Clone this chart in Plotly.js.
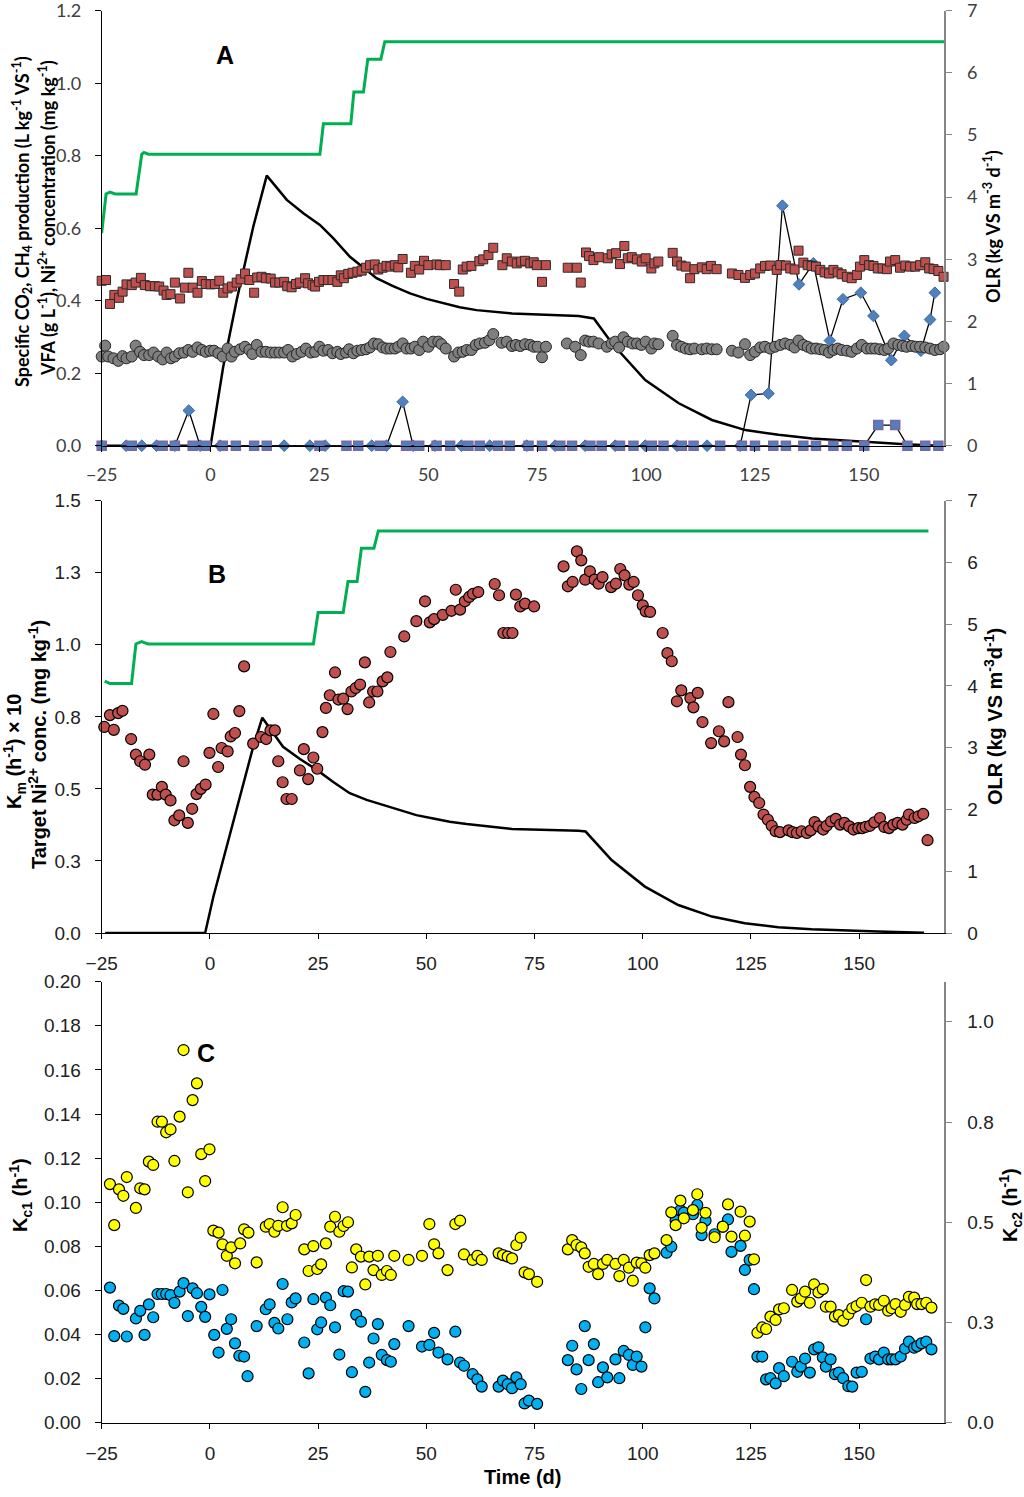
<!DOCTYPE html>
<html>
<head>
<meta charset="utf-8">
<script src="https://cdn.plot.ly/plotly-3.0.1.min.js"></script>
<style>
  html, body { margin: 0; padding: 0; background: #fff; }
  #chart { width: 1024px; height: 1497px; }
</style>
</head>
<body>
<div id="chart"></div>
<script>
"use strict";

// ---------- Panel A ----------
// specific CH4 production (red squares)
const dayA_ch4 = [-25,-24.0,-23.1,-22.1,-21.0,-20.2,-19.3,-18.1,-17.2,-16.0,
  -15.1,-13.9,-12.8,-11.8,-10.8,-10.1,-9.2,-8.2,-7.0,-5.9,
  -5.1,-4.1,-3.0,-2.0,-1.1,0.0,1.0,2.0,2.9,3.9,
  4.9,6.0,6.9,7.9,8.9,10.0,10.7,11.7,12.7,13.8,
  14.8,15.8,16.9,17.6,18.6,19.6,20.5,21.7,22.4,23.4,
  24.0,24.9,25.9,27.0,28.0,29.1,29.9,30.6,31.6,32.6,
  33.7,34.7,35.7,36.6,37.7,38.5,39.5,40.4,41.3,42.3,
  43.1,44.1,46.0,46.9,47.9,49.0,50.0,51.9,52.7,54.0,
  55.9,57.1,57.9,58.8,59.9,61.7,62.6,63.8,64.9,67.0,
  68.0,69.2,70.3,71.3,72.2,73.4,74.2,74.9,76.1,77.0,
  82.0,84.1,85.0,86.2,86.9,87.9,89.2,91.2,92.1,93.1,
  94.0,95.0,95.8,96.7,97.9,99.0,99.9,101.2,101.9,102.8,
  106.1,107.1,108.1,109.1,110.1,111.1,112.8,113.9,114.9,116.2,
  119.7,121.2,122.7,123.9,125.0,126.2,127.3,128.5,130.0,130.8,
  132.1,133.1,134.1,135.0,136.1,137.1,138.0,139.0,140.0,141.0,
  142.0,143.0,144.0,144.9,146.1,147.2,148.4,149.1,150.1,151.2,
  152.2,153.2,154.3,155.3,156.0,157.2,158.3,159.5,160.6,161.8,
  162.9,164.1,165.0,166.0,167.1,168.3];
const ch4A = [0.455,0.457,0.391,0.416,0.408,0.425,0.445,0.443,0.450,0.463,
  0.443,0.440,0.440,0.439,0.428,0.416,0.418,0.450,0.406,0.436,
  0.477,0.436,0.422,0.454,0.446,0.445,0.446,0.455,0.422,0.434,
  0.439,0.450,0.459,0.475,0.457,0.422,0.464,0.466,0.462,0.461,
  0.450,0.450,0.452,0.440,0.437,0.446,0.450,0.462,0.448,0.443,
  0.439,0.452,0.457,0.457,0.457,0.452,0.470,0.462,0.474,0.477,
  0.480,0.483,0.491,0.498,0.500,0.486,0.491,0.496,0.494,0.498,
  0.492,0.515,0.477,0.496,0.486,0.510,0.498,0.500,0.498,0.498,
  0.446,0.425,0.486,0.494,0.496,0.509,0.514,0.526,0.546,0.498,
  0.517,0.508,0.503,0.508,0.510,0.503,0.506,0.498,0.452,0.498,
  0.491,0.491,0.450,0.533,0.523,0.512,0.520,0.517,0.528,0.531,
  0.501,0.551,0.517,0.520,0.514,0.508,0.517,0.489,0.503,0.508,
  0.532,0.508,0.497,0.494,0.462,0.487,0.492,0.487,0.496,0.487,
  0.475,0.471,0.463,0.471,0.475,0.489,0.496,0.497,0.485,0.498,
  0.497,0.489,0.486,0.538,0.505,0.498,0.496,0.494,0.485,0.478,
  0.475,0.485,0.478,0.473,0.466,0.462,0.471,0.494,0.512,0.498,
  0.496,0.489,0.489,0.487,0.508,0.512,0.491,0.497,0.494,0.494,
  0.498,0.506,0.489,0.487,0.482,0.466];

// specific CO2 production (grey circles)
const dayA_co2 = [-25.0,-24.2,-23.5,-22.3,-21.2,-20.2,-19.3,-18.1,-17.2,-16.2,
  -15.3,-14.1,-13.1,-12.0,-11.0,-10.1,-9.1,-8.2,-7.2,-6.1,
  -5.1,-4.1,-3.0,-2.0,-1.1,-0.1,0.8,1.8,2.8,3.9,
  4.8,5.6,6.8,7.9,8.9,9.6,10.6,11.7,12.7,13.8,
  14.8,15.8,16.9,17.8,18.8,19.8,20.9,21.9,23.0,24.0,
  25.0,25.9,27.0,28.0,29.1,29.9,31.1,31.8,32.8,33.7,
  34.7,35.7,36.6,37.5,38.5,39.5,40.4,41.3,42.3,43.1,
  44.1,45.0,46.0,46.9,47.9,48.8,50.0,51.1,52.3,53.0,
  54.0,55.9,56.9,57.9,58.8,59.9,60.9,61.8,63.0,64.0,
  64.9,66.8,68.0,69.2,
  70.1,71.1,72.2,73.4,74.2,75.1,76.1,77.0,81.8,83.7,
  85.0,86.0,86.9,87.9,89.1,91.0,92.1,92.9,93.8,94.8,
  95.8,96.9,97.9,98.9,99.9,101.2,101.9,102.8,106.1,107.1,
  108.1,109.1,110.1,111.1,112.8,113.9,115.1,116.2,119.7,121.2,
  122.7,123.9,125.0,126.2,127.3,128.5,129.6,130.8,131.9,133.1,
  134.1,135.0,136.1,137.1,138.0,139.0,140.0,141.0,142.0,143.0,
  144.0,144.9,146.1,147.2,148.4,149.5,150.7,151.7,152.6,153.7,
  154.7,155.6,156.8,157.9,158.9,159.8,161.0,161.9,162.9,164.1,
  165.2,166.3,167.5,168.3];
const co2A = [0.246,0.276,0.246,0.241,0.234,0.247,0.241,0.246,0.276,0.259,
  0.250,0.250,0.257,0.246,0.238,0.257,0.241,0.246,0.255,0.257,
  0.264,0.259,0.271,0.264,0.259,0.262,0.262,0.255,0.246,0.268,
  0.246,0.259,0.266,0.273,0.264,0.253,0.278,0.259,0.259,0.257,
  0.257,0.257,0.257,0.264,0.246,0.253,0.259,0.268,0.257,0.259,
  0.273,0.262,0.264,0.255,0.259,0.253,0.257,0.266,0.255,0.262,
  0.264,0.266,0.271,0.282,0.280,0.271,0.268,0.268,0.268,0.273,
  0.282,0.268,0.268,0.273,0.264,0.287,0.273,0.287,0.287,0.280,
  0.268,0.246,0.257,0.259,0.264,0.264,0.278,0.282,0.284,0.291,
  0.308,0.284,0.287,0.275,
  0.278,0.275,0.280,0.278,0.273,0.273,0.244,0.273,0.282,0.273,
  0.250,0.290,0.287,0.287,0.282,0.273,0.282,0.287,0.271,0.299,
  0.287,0.282,0.282,0.278,0.287,0.268,0.282,0.280,0.303,0.278,
  0.273,0.268,0.266,0.268,0.266,0.268,0.266,0.266,0.262,0.257,
  0.280,0.250,0.259,0.271,0.273,0.268,0.273,0.278,0.282,0.278,
  0.271,0.290,0.278,0.273,0.268,0.268,0.266,0.264,0.257,0.264,
  0.268,0.264,0.262,0.259,0.268,0.278,0.268,0.268,0.268,0.266,
  0.264,0.268,0.282,0.278,0.275,0.273,0.275,0.273,0.273,0.271,
  0.268,0.264,0.266,0.273];

// VFA (blue diamonds)
const dayA_vfa = [-25,-19.4,-15.8,-12.4,-8.2,-5.0,-2.4,2.2,16.9,22.8,
  26.3,37.0,40.4,44.1,46.5,51.5,57.6,64.1,72.6,79.1,
  86.0,92.9,99.8,107.1,114.0,121.6,124.1,128.1,131.3,135.1,
  138.4,142.2,145.2,149.3,152.2,156.3,159.3,163.1,165.2,166.3];
const vfaA = [0,0,0,0,0,0.097,0,0,0,0,
  0,0,0,0.121,0,0,0,0,0,0,
  0,0,0,0,0,0,0.140,0.144,0.662,0.445,
  0.503,0.290,0.404,0.422,0.358,0.236,0.303,0.262,0.348,0.422];

// Ni2+ (blue squares)
const dayA_ni = [-25,-18.1,-11.0,-8.2,-4.1,-1.1,2.8,5.8,10.0,12.9,
  25.0,31.2,33.9,38.9,44.9,47.9,51.9,55.0,59.2,61.8,
  66.0,68.7,73.0,76.1,80.3,83.0,87.2,89.8,94.0,97.1,
  101.3,104.0,108.2,110.9,117.0,122.0,125.0,129.2,132.1,136.1,
  139.0,143.0,146.1,150.1,153.3,157.2,160.0,164.1,167.1];
const niA = [0,0,0,0,0,0,0,0,0,0,
  0,0,0,0,0,0,0,0,0,0,
  0,0,0,0,0,0,0,0,0,0,
  0,0,0,0,0,0,0,0,0,0,
  0,0,0,0,0.057,0.057,0,0,0];

// target Ni2+ concentration (black line)
const dayA_target = [-25,0.0,2.9,6.0,9.8,12.9,17.5,21.3,25.1,28.2,32.0,35.8,38.1,41.9,45.8,49.6,
  53.4,57.2,61.1,64.9,69.2,84.5,88.0,92.2,99.8,107.5,115.1,122.8,130.4,138.1,145.7,153.4,159.5,167.2];
const targetA = [0,0,0.218,0.402,0.604,0.745,0.678,0.641,0.609,0.572,0.521,0.485,0.462,0.440,0.420,0.405,
  0.393,0.382,0.374,0.369,0.365,0.358,0.351,0.282,0.181,0.117,0.071,0.043,0.030,0.020,0.014,0.008,0.004,0];

// OLR (green line)
const dayA_olr = [-25,-24.0,-23.1,-21.9,-17.1,-15.8,-15.3,-14.3,25.1,25.9,32.2,32.9,35.1,36.1,39.1,40.0,168.4];
const olrA = [3.42,4.05,4.08,4.05,4.05,4.69,4.72,4.69,4.69,5.18,5.18,5.69,5.69,6.22,6.22,6.50,6.50];

// ---------- Panel B ----------
const dayB_km = [-24.4,-23.1,-22.2,-21.2,-20.2,-18.2,-17.1,-16.1,-15.0,-14.0,
  -13.2,-12.1,-11.1,-10.2,-9.1,-8.2,-7.1,-6.1,-5.1,-4.1,
  -3.1,-2.1,-1.0,-0.1,0.8,1.9,2.7,4.1,4.8,5.8,
  6.8,7.9,10.0,11.8,13.0,14.0,15.0,15.8,16.8,17.7,
  18.9,20.8,21.7,22.7,23.9,24.8,26.0,26.8,27.7,28.9,
  29.7,30.8,31.8,32.7,33.7,34.7,35.8,36.8,37.7,38.7,
  39.9,41.0,41.7,44.9,47.7,49.7,50.8,51.8,53.8,55.8,
  56.8,57.8,58.9,59.9,60.8,62.0,65.8,66.8,67.8,68.9,
  69.9,70.7,71.7,72.8,74.9,81.7,82.7,83.8,84.8,85.8,
  86.7,87.8,88.9,89.8,90.7,92.7,93.8,94.8,95.8,96.9,
  97.9,98.9,100.0,100.7,101.7,104.6,105.7,106.7,107.9,108.9,
  111.0,111.7,112.7,113.8,115.8,117.6,118.8,119.8,121.9,122.7,
  123.6,124.8,125.8,126.9,127.9,128.9,129.8,130.7,131.7,133.7,
  134.6,135.6,136.7,137.9,138.8,139.7,140.6,141.7,142.5,143.5,
  144.6,145.6,146.6,147.7,148.7,149.8,150.7,151.5,152.5,153.5,
  154.8,155.8,156.9,157.9,158.9,160.0,161.0,161.5,162.8,163.7,
  164.8,165.8];
const kmB = [0.715,0.756,0.705,0.763,0.771,0.673,0.619,0.596,0.584,0.619,
  0.480,0.480,0.507,0.480,0.460,0.391,0.408,0.596,0.382,0.431,
  0.482,0.500,0.515,0.625,0.760,0.576,0.642,0.630,0.682,0.694,
  0.770,0.925,0.657,0.680,0.673,0.703,0.703,0.596,0.523,0.465,
  0.465,0.564,0.638,0.534,0.609,0.570,0.697,0.781,0.825,0.904,
  0.810,0.813,0.777,0.838,0.850,0.862,0.939,0.800,0.838,0.838,
  0.873,0.887,0.975,1.029,1.082,1.151,1.078,1.089,1.104,1.118,
  1.191,1.122,1.151,1.166,1.177,1.183,1.211,1.172,1.041,1.041,
  1.041,1.174,1.133,1.143,1.133,1.272,1.203,1.218,1.324,1.293,
  1.226,1.255,1.226,1.212,1.235,1.200,1.212,1.263,1.241,1.209,
  1.218,1.172,1.137,1.116,1.114,1.041,0.971,0.943,0.804,0.842,
  0.815,0.783,0.833,0.732,0.659,0.700,0.665,0.801,0.680,0.619,
  0.582,0.507,0.472,0.451,0.411,0.393,0.372,0.353,0.350,0.356,
  0.350,0.347,0.353,0.347,0.356,0.385,0.370,0.359,0.372,0.387,
  0.396,0.376,0.382,0.370,0.359,0.364,0.364,0.368,0.372,0.384,
  0.399,0.368,0.364,0.376,0.382,0.376,0.393,0.411,0.399,0.405,
  0.413,0.322];

const dayB_target = [-24.2,-1.1,0.8,3.9,6.9,10.0,12.1,16.9,20.8,24.7,28.5,32.3,36.2,40.0,43.9,47.7,51.6,
  55.4,59.3,63.1,67.0,69.8,85.2,86.8,92.8,100.5,108.2,116.0,123.6,131.3,139.0,146.7,154.4,165.0];
const targetB = [0,0,0.126,0.300,0.473,0.646,0.747,0.646,0.604,0.566,0.524,0.485,0.462,0.444,0.426,0.409,0.397,
  0.386,0.378,0.371,0.365,0.361,0.355,0.352,0.253,0.161,0.097,0.057,0.034,0.020,0.013,0.008,0.005,0.001];

const dayB_olr = [-24.3,-23.1,-18.1,-17.1,-15.8,-14.3,23.9,25.0,30.8,31.9,34.0,35.0,37.9,38.9,166.0];
const olrB = [4.08,4.04,4.04,4.68,4.72,4.68,4.68,5.19,5.19,5.69,5.69,6.23,6.23,6.51,6.51];

// ---------- Panel C ----------
// Kc1 (yellow, left axis)
const dayC_kc1 = [-23.1,-22.1,-21.0,-20.0,-19.2,-17.1,-16.1,-15.1,-14.1,-13.1,
  -12.1,-11.1,-10.1,-9.1,-8.2,-7.0,-6.1,-5.1,-4.0,-3.0,
  -2.0,-1.1,-0.1,0.8,2.0,2.9,3.9,4.9,5.8,7.0,
  7.9,8.9,10.8,12.9,13.8,14.9,15.8,16.8,17.8,18.9,
  19.8,21.8,22.8,23.9,24.8,25.7,26.8,27.8,28.9,29.9,
  30.9,31.9,32.8,33.8,34.9,35.9,36.8,37.8,38.8,39.7,
  40.9,41.8,42.6,45.9,49.0,50.7,51.8,52.8,54.9,56.7,
  57.8,58.7,60.7,61.8,62.8,66.7,67.7,68.8,69.8,
  70.8,71.8,72.7,73.7,75.6,82.7,83.7,84.7,85.8,86.6,
  87.5,88.7,89.7,90.8,91.8,93.7,94.6,95.6,96.8,97.7,
  98.6,99.7,100.6,101.6,102.7,105.5,106.6,107.6,108.7,109.5,
  111.6,112.6,113.6,114.5,116.6,118.5,119.7,120.5,122.6,123.6,
  124.7,125.7,126.5,127.6,128.5,129.5,130.7,131.5,132.6,134.5,
  135.7,136.5,137.5,138.6,139.6,140.6,141.6,142.3,143.4,144.4,
  145.3,146.3,147.5,148.4,149.4,150.6,151.6,152.6,153.7,154.6,
  155.7,156.7,157.5,158.4,159.6,160.6,161.5,162.7,163.4,164.4,
  165.5,166.7];
const kc1C = [0.1082,0.0896,0.1058,0.1029,0.1114,0.0974,0.1063,0.1058,0.1184,0.1169,
  0.1365,0.1365,0.1317,0.1330,0.1187,0.1388,0.1690,0.1045,0.1463,0.1539,
  0.1218,0.1096,0.1240,0.0871,0.0862,0.0809,0.0757,0.0795,0.0723,0.0813,
  0.0877,0.0862,0.0727,0.0889,0.0901,0.0866,0.0893,0.0977,0.0893,0.0904,
  0.0942,0.0786,0.0688,0.0801,0.0697,0.0718,0.0813,0.0889,0.0934,0.0866,
  0.0892,0.0909,0.0704,0.0786,0.0753,0.0627,0.0753,0.0692,0.0757,0.0670,
  0.0688,0.0670,0.0757,0.0738,0.0757,0.0901,0.0809,0.0768,0.0692,0.0901,
  0.0916,0.0763,0.0738,0.0757,0.0738,0.0768,0.0760,0.0753,0.0745,
  0.0806,0.0839,0.0682,0.0674,0.0639,0.0786,0.0828,0.0806,0.0795,0.0768,
  0.0707,0.0720,0.0674,0.0720,0.0738,0.0720,0.0665,0.0738,0.0703,0.0644,
  0.0726,0.0723,0.0703,0.0760,0.0768,0.0828,0.0954,0.0896,0.1007,0.0927,
  0.0964,0.1036,0.0884,0.0952,0.0841,0.0889,0.0990,0.0844,0.0957,0.0848,
  0.0912,0.0741,0.0408,0.0432,0.0425,0.0481,0.0466,0.0514,0.0519,0.0602,
  0.0549,0.0564,0.0594,0.0544,0.0627,0.0591,0.0606,0.0526,0.0526,0.0481,
  0.0488,0.0463,0.0493,0.0519,0.0529,0.0544,0.0647,0.0526,0.0537,0.0534,
  0.0553,0.0508,0.0519,0.0538,0.0503,0.0534,0.0571,0.0567,0.0538,0.0538,
  0.0544,0.0522];

// Kc2 (blue, right axis)
const dayC_kc2 = [-23.1,-22.1,-21.0,-20.0,-19.2,-17.1,-16.1,-15.1,-14.1,-13.1,
  -12.1,-11.1,-10.1,-9.1,-8.2,-7.0,-6.1,-5.1,-4.0,-3.0,
  -2.0,-1.1,-0.1,1.0,2.0,2.9,3.9,4.9,5.8,6.8,
  7.9,8.7,10.8,12.9,13.8,14.9,15.8,16.8,17.9,18.9,
  19.8,21.8,22.8,23.9,24.8,25.7,26.8,27.8,28.9,29.9,
  30.9,31.9,32.8,33.8,34.9,35.9,36.8,37.8,38.8,39.7,
  40.9,41.8,42.6,45.9,49.0,50.7,51.8,52.8,54.9,56.7,
  57.8,58.7,60.7,61.8,62.8,66.7,67.7,68.8,69.8,
  70.8,71.8,72.7,73.7,75.6,82.7,83.7,84.7,85.8,86.6,
  87.5,88.7,89.7,90.8,91.8,93.7,94.6,95.6,96.8,97.7,
  98.6,99.7,100.6,101.6,102.7,105.5,106.6,107.6,108.7,109.5,
  111.6,112.6,113.6,114.5,116.6,118.5,119.7,120.5,122.6,123.6,
  124.7,125.7,126.5,127.6,128.5,129.5,130.7,131.5,132.6,134.5,
  135.7,136.5,137.5,138.6,139.6,140.6,141.6,142.3,143.4,144.4,
  145.3,146.3,147.5,148.4,149.4,150.6,151.6,152.6,153.7,154.6,
  155.7,156.7,157.5,158.4,159.6,160.6,161.5,162.7,163.4,164.4,
  165.5,166.7];
const kc2C = [0.337,0.216,0.292,0.284,0.215,0.260,0.279,0.219,0.295,0.263,
  0.321,0.321,0.321,0.318,0.299,0.327,0.348,0.266,0.335,0.323,
  0.289,0.264,0.320,0.219,0.175,0.331,0.234,0.258,0.198,0.167,
  0.165,0.116,0.241,0.283,0.295,0.249,0.235,0.346,0.258,0.300,
  0.310,0.200,0.123,0.308,0.233,0.250,0.312,0.293,0.238,0.170,
  0.328,0.327,0.126,0.269,0.252,0.077,0.150,0.210,0.246,0.169,
  0.156,0.152,0.196,0.241,0.190,0.194,0.224,0.175,0.158,0.227,
  0.150,0.142,0.121,0.108,0.090,0.090,0.105,0.096,0.086,
  0.113,0.096,0.048,0.055,0.047,0.156,0.192,0.133,0.084,0.241,
  0.156,0.196,0.101,0.138,0.113,0.158,0.111,0.179,0.169,0.144,
  0.165,0.140,0.238,0.335,0.310,0.424,0.439,0.505,0.530,0.524,
  0.520,0.543,0.468,0.504,0.470,0.489,0.507,0.426,0.441,0.381,
  0.406,0.333,0.165,0.165,0.108,0.111,0.098,0.136,0.116,0.152,
  0.127,0.140,0.160,0.125,0.183,0.188,0.163,0.140,0.158,0.121,
  0.125,0.111,0.091,0.090,0.125,0.127,0.258,0.160,0.165,0.158,
  0.175,0.158,0.158,0.158,0.165,0.185,0.202,0.187,0.191,0.198,
  0.202,0.183];

const tickTextQuarter = ["0.0","0.3","0.5","0.8","1.0","1.3","1.5"];
const tickValsQuarter = [0,0.25,0.5,0.75,1.0,1.25,1.5];
const tickValsA = [0,0.2,0.4,0.6,0.8,1.0,1.2];
const tickValsOlr = [0,1,2,3,4,5,6,7];

// ---------- layout helpers ----------
const W = 1024, H = 1497;
const px = x => x / W;
const py = y => 1 - y / H;
const xDom = [px(101.7), px(944)];

const famA = "Lato, 'Open Sans', sans-serif";
const famB = "'Liberation Sans', Arial, sans-serif";
const fontA = {family: famA, size: 18, color: "#404040"};
const fontB = {family: famB, size: 19, color: "#222"};

function leftAxis(font, extra) {
    return Object.assign({
        showgrid: false, zeroline: false, showline: true, linecolor: "#000", linewidth: 1,
        ticks: "outside", ticklen: 6, tickcolor: "#000", tickfont: font, ticklabelstandoff: 10,
        ticklabeloverflow: "allow"
    }, extra);
}
function rightAxis(font, extra) {
    return Object.assign({
        showgrid: false, zeroline: false, showline: true, linecolor: "#868686", linewidth: 1.5,
        ticks: "outside", ticklen: 6, tickcolor: "#868686", tickfont: font, ticklabelstandoff: 12,
        side: "right", ticklabeloverflow: "allow"
    }, extra);
}
function xAxis(font, extra) {
    return Object.assign({
        showgrid: false, zeroline: false, showline: true, linecolor: "#000", linewidth: 1,
        ticks: "outside", ticklen: 5, tickcolor: "#000", tickfont: font, ticklabelstandoff: 8,
        tick0: -25, dtick: 25, domain: xDom, ticklabeloverflow: "allow"
    }, extra);
}

const traces = [
    // Panel A
    {x: dayA_target, y: targetA, xaxis: "x", yaxis: "y", mode: "lines",
        line: {color: "#000", width: 2.5}},
    {x: dayA_vfa, y: vfaA, xaxis: "x", yaxis: "y", mode: "lines+markers", cliponaxis: false,
        line: {color: "#000", width: 1.3},
        marker: {symbol: "diamond", size: 9, color: "#4F81BD", line: {color: "#3A6AA8", width: 1}}},
    {x: dayA_ni, y: niA, xaxis: "x", yaxis: "y", mode: "lines+markers", cliponaxis: false,
        line: {color: "#000", width: 1.3},
        marker: {symbol: "square", size: 9, color: "#4F81BD", line: {color: "#8064A2", width: 1.5}}},
    {x: dayA_ch4, y: ch4A, xaxis: "x", yaxis: "y", mode: "markers", cliponaxis: false,
        marker: {symbol: "square", size: 9, color: "#C0504D", line: {color: "#2b2b2b", width: 1}}},
    {x: dayA_co2, y: co2A, xaxis: "x", yaxis: "y", mode: "markers", cliponaxis: false,
        marker: {symbol: "circle", size: 11, color: "#7F7F7F", line: {color: "#262626", width: 1}}},
    {x: dayA_olr, y: olrA, xaxis: "x", yaxis: "y2", mode: "lines",
        line: {color: "#00B050", width: 3}},
    // Panel B
    {x: dayB_target, y: targetB, xaxis: "x2", yaxis: "y3", mode: "lines",
        line: {color: "#000", width: 2.5}},
    {x: dayB_km, y: kmB, xaxis: "x2", yaxis: "y3", mode: "markers", cliponaxis: false,
        marker: {symbol: "circle", size: 11, color: "#C0504D", line: {color: "#000", width: 1.2}}},
    {x: dayB_olr, y: olrB, xaxis: "x2", yaxis: "y4", mode: "lines",
        line: {color: "#00B050", width: 3}},
    // Panel C
    {x: dayC_kc2, y: kc2C, xaxis: "x3", yaxis: "y5", mode: "markers", cliponaxis: false,
        marker: {symbol: "circle", size: 11, color: "#00B0F0", line: {color: "#000", width: 1.2}}},
    {x: dayC_kc1, y: kc1C, xaxis: "x3", yaxis: "y6", mode: "markers", cliponaxis: false,
        marker: {symbol: "circle", size: 11, color: "#FFFF00", line: {color: "#000", width: 1.2}}}
];

function vTitle(text, x, y, size, family) {
    return {text: text, x: px(x), y: py(y), xref: "paper", yref: "paper", showarrow: false,
        textangle: -90, xanchor: "center", yanchor: "middle",
        font: {family: family, size: size, color: "#000"}};
}
function label(text, x, y, size, family) {
    return {text: text, x: px(x), y: py(y), xref: "paper", yref: "paper", showarrow: false,
        xanchor: "center", yanchor: "middle",
        font: {family: family, size: size, color: "#000"}};
}

const layout = {
    width: W, height: H,
    margin: {l: 0, r: 0, t: 0, b: 0},
    paper_bgcolor: "#fff", plot_bgcolor: "#fff",
    showlegend: false,
    xaxis: xAxis(fontA, {range: [-25, 168.4], anchor: "y"}),
    yaxis: leftAxis(fontA, {range: [0, 1.2], tickvals: tickValsA, tickformat: ".1f", anchor: "x",
        domain: [py(445.7), py(10.7)]}),
    yaxis2: rightAxis(fontA, {range: [0, 7], tickvals: tickValsOlr, overlaying: "y", anchor: "x"}),
    xaxis2: xAxis(fontB, {range: [-25, 169.6], anchor: "y3"}),
    yaxis3: leftAxis(fontB, {range: [0, 1.5], tickvals: tickValsQuarter, ticktext: tickTextQuarter,
        anchor: "x2", domain: [py(933), py(500.7)]}),
    yaxis4: rightAxis(fontB, {range: [0, 7], tickvals: tickValsOlr, overlaying: "y3", anchor: "x2"}),
    xaxis3: xAxis(fontB, {range: [-25, 169.6], anchor: "y5"}),
    yaxis5: rightAxis(fontB, {range: [0, 1.1], tickvals: tickValsQuarter.slice(0, 5),
        ticktext: tickTextQuarter.slice(0, 5), anchor: "x3", domain: [py(1422.7), py(981.7)]}),
    yaxis6: leftAxis(fontB, {range: [0, 0.2], dtick: 0.02, tickformat: ".2f",
        overlaying: "y5", side: "left", anchor: "x3"}),
    annotations: [
        label("<b>A</b>", 225, 55, 25, famB),
        label("<b>B</b>", 217, 574, 25, famB),
        label("<b>C</b>", 206, 1053, 25, famB),
        vTitle("<b>Specific CO<sub>2</sub>, CH<sub>4</sub> production (L kg<sup>-1</sup> VS<sup>-1</sup>)</b>", 22, 222, 18, famA),
        vTitle("<b>VFA (g L<sup>-1</sup>), Ni<sup>2+</sup> concentration (mg kg<sup>-1</sup>)</b>", 47, 218, 18, famA),
        vTitle("<b>OLR (kg VS m<sup>-3</sup> d<sup>-1</sup>)</b>", 992, 227, 18, famA),
        vTitle("<b>K<sub>m</sub> (h<sup>-1</sup>) × 10</b>", 14, 751, 20, famB),
        vTitle("<b>Target Ni<sup>2+</sup> conc. (mg kg<sup>-1</sup>)</b>", 37, 745, 20, famB),
        vTitle("<b>OLR (kg VS m<sup>-3</sup>d<sup>-1</sup>)</b>", 994, 717, 20, famB),
        vTitle("<b>K<sub>c1</sub> (h<sup>-1</sup>)</b>", 20, 1195, 20, famB),
        vTitle("<b>K<sub>c2</sub> (h<sup>-1</sup>)</b>", 1010, 1205, 20, famB),
        label("<b>Time (d)</b>", 522, 1477, 20, famB)
    ]
};

Plotly.newPlot("chart", traces, layout, {displayModeBar: false, staticPlot: true});
</script>
</body>
</html>
